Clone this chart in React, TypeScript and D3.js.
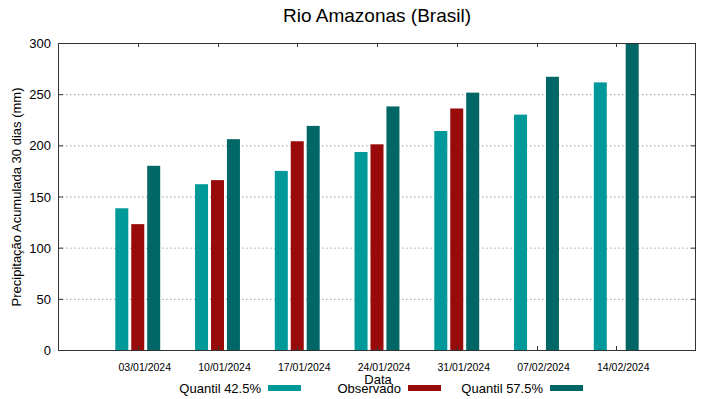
import React, { useEffect, useRef } from "react";
import * as d3 from "d3";

// Dates on the x axis
const dates = [
  "03/01/2024",
  "10/01/2024",
  "17/01/2024",
  "24/01/2024",
  "31/01/2024",
  "07/02/2024",
  "14/02/2024",
];

// Accumulated precipitation (mm)
const quantil425 = [138.5, 162, 175, 193.5, 214, 230, 261.5];
const observado = [123, 166, 204, 201, 236, null, null];
const quantil575 = [180, 206, 219, 238, 251.5, 267, 300];

const yTicks = [0, 50, 100, 150, 200, 250, 300];

const series = [
  { name: "Quantil 42.5%", values: quantil425, color: "#009999" },
  { name: "Observado", values: observado, color: "#990b0b" },
  { name: "Quantil 57.5%", values: quantil575, color: "#006666" },
];

const App = () => {
  const ref = useRef<SVGSVGElement>(null);

  useEffect(() => {
    const svg = d3.select(ref.current);
    svg.selectAll("*").remove();

    const font = "'Liberation Sans', Arial, sans-serif";
    const left = 58;
    const right = 696;
    const top = 43;
    const bottom = 350;

    const x = d3.scaleLinear().domain([-1, dates.length]).range([left, right]);
    const y = d3.scaleLinear().domain([0, 300]).range([bottom, top]);
    const unit = x(1) - x(0);
    const slot = 0.2;
    const barW = 0.163;

    svg
      .append("defs")
      .append("clipPath")
      .attr("id", "plot-clip")
      .append("rect")
      .attr("x", left)
      .attr("y", top)
      .attr("width", right - left)
      .attr("height", bottom - top);

    // Title
    svg
      .append("text")
      .attr("x", 377)
      .attr("y", 22)
      .attr("text-anchor", "middle")
      .attr("font-family", font)
      .attr("font-size", 19)
      .text("Rio Amazonas (Brasil)");

    // Grid lines
    svg
      .append("g")
      .selectAll("line")
      .data(yTicks.filter((t) => t > 0 && t < 300))
      .enter()
      .append("line")
      .attr("x1", left)
      .attr("x2", right)
      .attr("y1", (d) => y(d) + 0.5)
      .attr("y2", (d) => y(d) + 0.5)
      .attr("stroke", "#a0a0a0")
      .attr("stroke-width", 1)
      .attr("stroke-dasharray", "1.5,2.5");

    // Bars
    const bars = svg.append("g").attr("clip-path", "url(#plot-clip)");
    series.forEach((s, k) => {
      bars
        .selectAll(`.bar-${k}`)
        .data(s.values.map((v, i) => ({ v, i })).filter((d) => d.v != null))
        .enter()
        .append("rect")
        .attr("class", `bar-${k}`)
        .attr("x", (d) => x(d.i + (k - 1) * slot - barW / 2))
        .attr("y", (d) => y(d.v as number))
        .attr("width", barW * unit)
        .attr("height", (d) => bottom - y(d.v as number))
        .attr("fill", s.color);
    });

    // Frame
    svg
      .append("rect")
      .attr("x", left + 0.5)
      .attr("y", top + 0.5)
      .attr("width", right - left - 1)
      .attr("height", bottom - top)
      .attr("fill", "none")
      .attr("stroke", "#333")
      .attr("stroke-width", 1);

    // Y ticks (left and right, inward)
    const ticks = svg.append("g").attr("stroke", "#333").attr("stroke-width", 1);
    yTicks.forEach((t) => {
      ticks
        .append("line")
        .attr("x1", left)
        .attr("x2", left + 5)
        .attr("y1", y(t) + 0.5)
        .attr("y2", y(t) + 0.5);
      ticks
        .append("line")
        .attr("x1", right - 5)
        .attr("x2", right)
        .attr("y1", y(t) + 0.5)
        .attr("y2", y(t) + 0.5);
    });
    // X ticks (bottom and top, inward)
    dates.forEach((_, i) => {
      ticks
        .append("line")
        .attr("x1", Math.round(x(i)) + 0.5)
        .attr("x2", Math.round(x(i)) + 0.5)
        .attr("y1", bottom)
        .attr("y2", bottom - 4);
      ticks
        .append("line")
        .attr("x1", Math.round(x(i)) + 0.5)
        .attr("x2", Math.round(x(i)) + 0.5)
        .attr("y1", top)
        .attr("y2", top + 4);
    });

    // Y tick labels
    svg
      .append("g")
      .selectAll("text")
      .data(yTicks)
      .enter()
      .append("text")
      .attr("x", 51)
      .attr("y", (d) => y(d) + 5)
      .attr("text-anchor", "end")
      .attr("font-family", font)
      .attr("font-size", 13)
      .text((d) => d);

    // X tick labels
    svg
      .append("g")
      .selectAll("text")
      .data(dates)
      .enter()
      .append("text")
      .attr("x", (d, i) => x(i) + 7)
      .attr("y", 371)
      .attr("text-anchor", "middle")
      .attr("font-family", font)
      .attr("font-size", 10.5)
      .text((d) => d);

    // Axis titles
    svg
      .append("text")
      .attr("transform", "translate(21, 197) rotate(-90)")
      .attr("text-anchor", "middle")
      .attr("font-family", font)
      .attr("font-size", 13)
      .text("Precipitação Acumulada 30 dias (mm)");

    svg
      .append("text")
      .attr("x", 378)
      .attr("y", 384)
      .attr("text-anchor", "middle")
      .attr("font-family", font)
      .attr("font-size", 13)
      .text("Data");

    // Legend
    const legendEnds = [261, 401, 543];
    series.forEach((s, k) => {
      svg
        .append("text")
        .attr("x", legendEnds[k])
        .attr("y", 393)
        .attr("text-anchor", "end")
        .attr("font-family", font)
        .attr("font-size", 13)
        .text(s.name);
      svg
        .append("rect")
        .attr("x", legendEnds[k] + 7)
        .attr("y", 385)
        .attr("width", 33)
        .attr("height", 6)
        .attr("fill", s.color);
    });
  }, []);

  return (
    <svg
      ref={ref}
      width={719}
      height={399}
      style={{ position: "absolute", left: 0, top: 0, background: "#fff" }}
    />
  );
};

export default App;
